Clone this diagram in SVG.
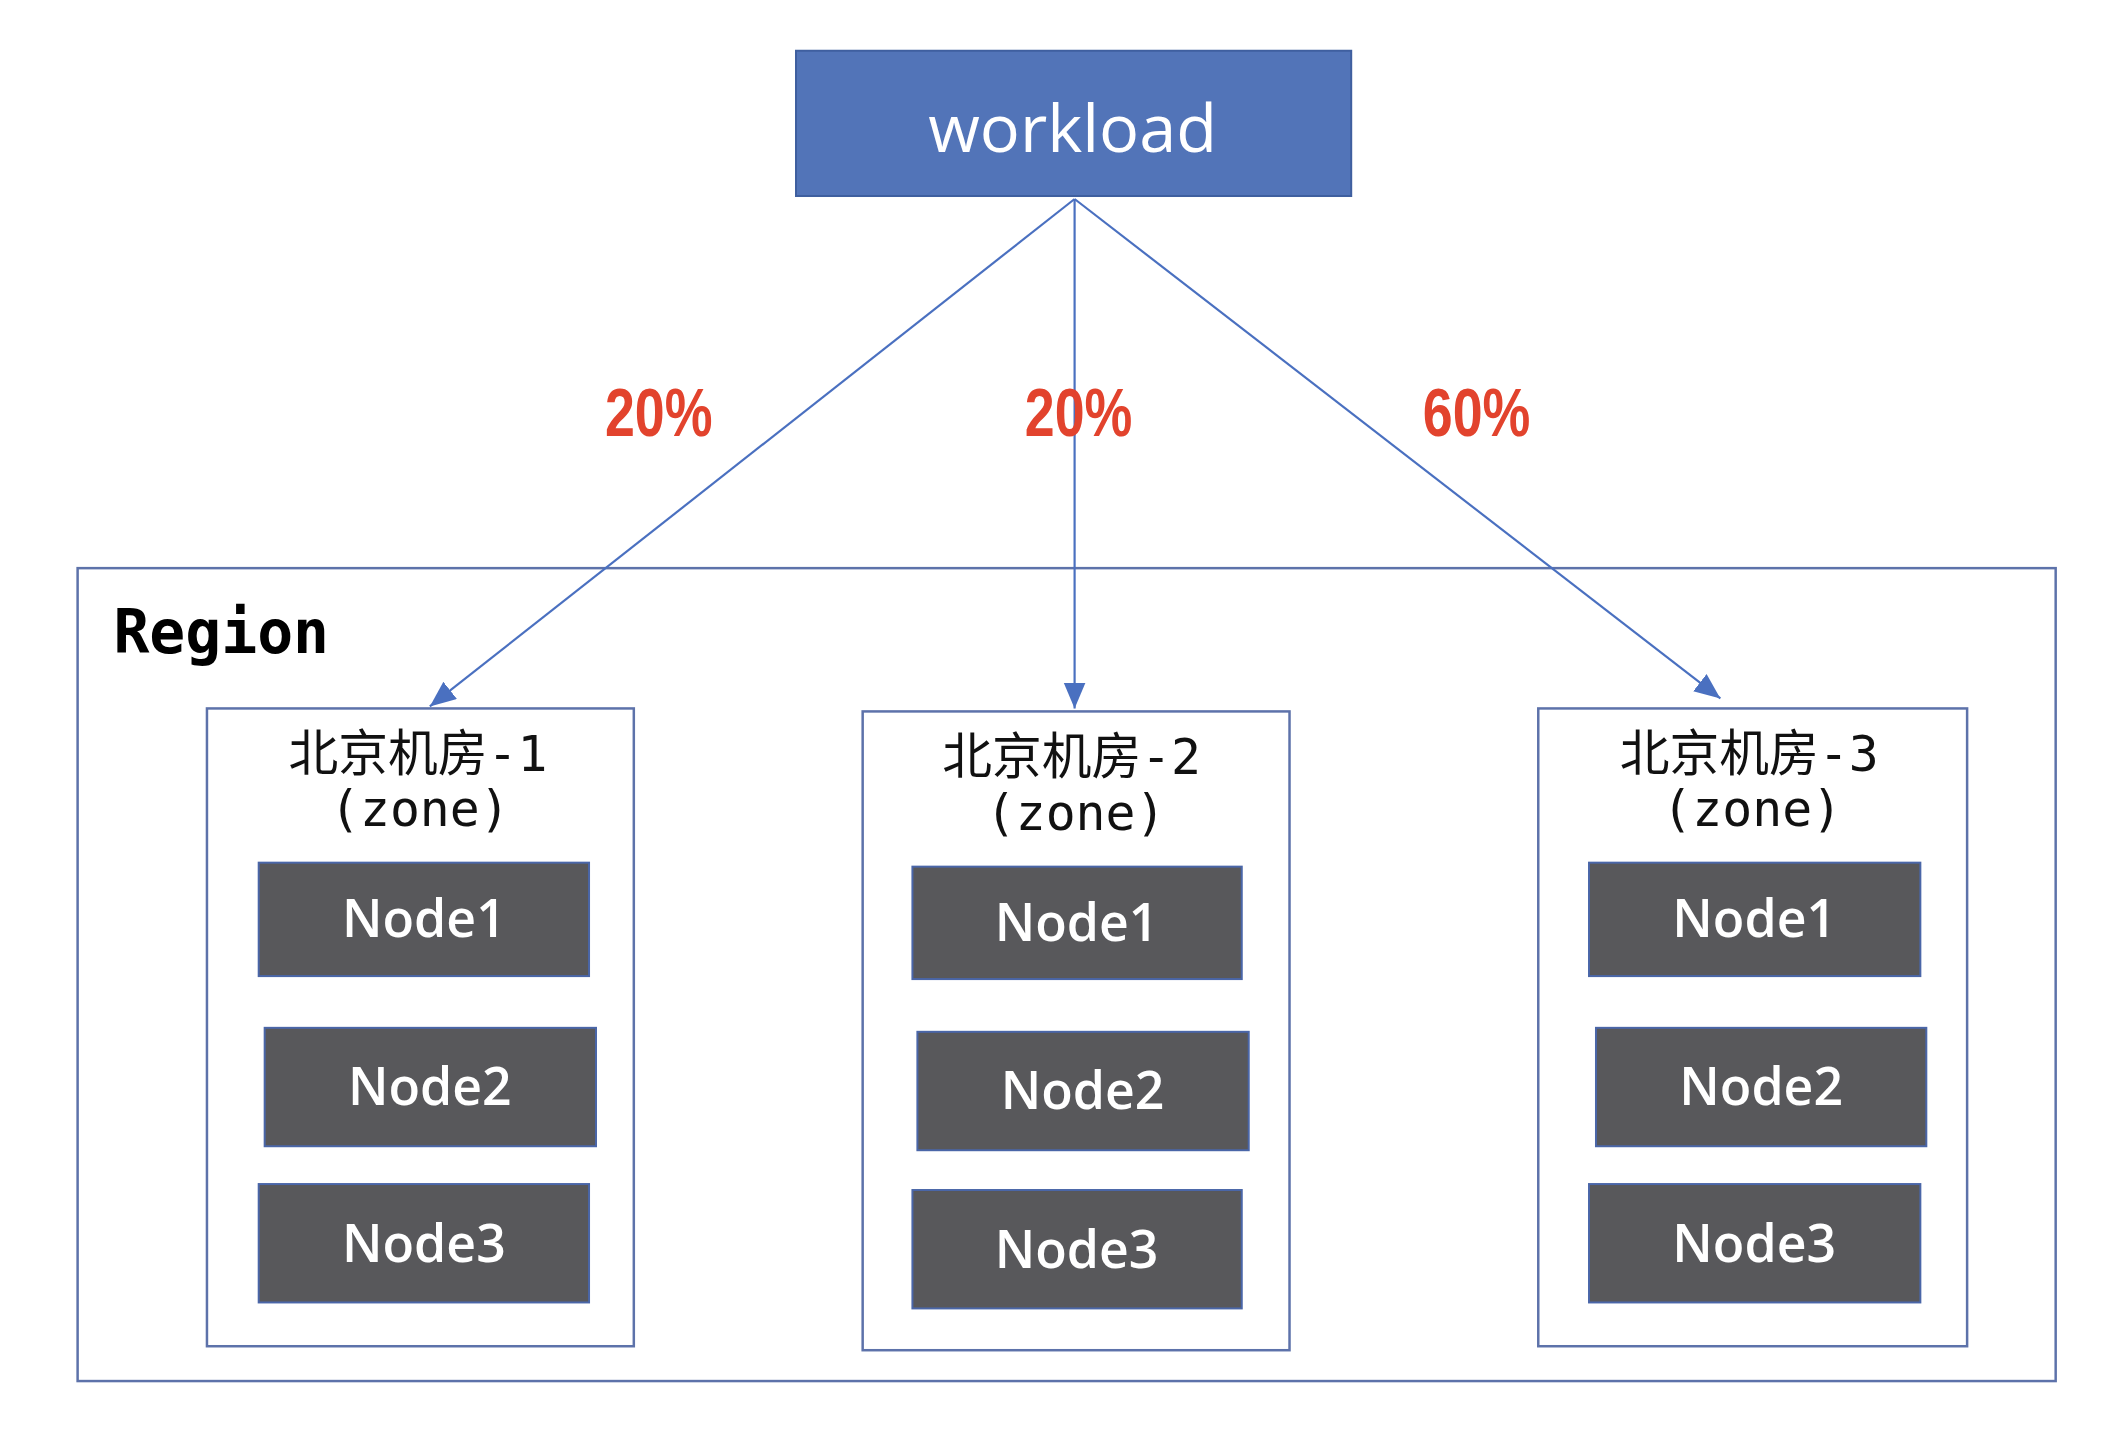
<svg xmlns="http://www.w3.org/2000/svg" width="2110" height="1430" viewBox="0 0 2110 1430">
<style>
.box{fill:#ffffff;stroke:#5d72aa;stroke-width:2.5}
.node rect{fill:#58585b;stroke:#4a66a8;stroke-width:2}
.node text{fill:#ffffff;font-family:"Open Sans","Liberation Sans",sans-serif;font-size:52px;font-weight:600;text-anchor:middle}
.ztitle{fill:#111111;font-family:"DejaVu Sans Mono","Noto Sans CJK SC",monospace;font-size:50px;text-anchor:middle}
.pct{fill:#e2432d;font-family:"Liberation Sans","Arial",sans-serif;font-size:68px;font-weight:bold;text-anchor:middle}
.conn{stroke:#4a70c0;stroke-width:2.2;fill:none}
</style>
<defs>
<marker id="arr" markerUnits="userSpaceOnUse" markerWidth="30" markerHeight="24" refX="26" refY="11" orient="auto">
<path d="M0,0 L26,11 L0,22 Z" fill="#4a70c0"/>
</marker>
</defs>
<rect width="2110" height="1430" fill="#ffffff"/>
<g transform="scale(0.995)">
<g id="region">
<rect class="box" x="78" y="571" width="1988" height="817"/>
<text x="114" y="656" font-family="DejaVu Sans Mono, monospace" font-size="60" font-weight="bold" fill="#000000">Region</text>
</g>

<g id="workload">
<rect x="800" y="51" width="558" height="146" fill="#5274b8" stroke="#3f5f9f" stroke-width="2"/>
<text x="1078" y="153" font-family="Open Sans, Liberation Sans, sans-serif" font-size="67" fill="#ffffff" text-anchor="middle">workload</text>
</g>

<g id="connectors">
<line class="conn" x1="1080" y1="200" x2="432" y2="710" marker-end="url(#arr)"/>
<line class="conn" x1="1080" y1="200" x2="1080" y2="712" marker-end="url(#arr)"/>
<line class="conn" x1="1080" y1="200" x2="1729" y2="702" marker-end="url(#arr)"/>
<text class="pct" x="662" y="438" textLength="108" lengthAdjust="spacingAndGlyphs">20%</text>
<text class="pct" x="1084" y="438" textLength="108" lengthAdjust="spacingAndGlyphs">20%</text>
<text class="pct" x="1484" y="438" textLength="108" lengthAdjust="spacingAndGlyphs">60%</text>
</g>

<g id="zone1">
<rect class="box" x="208" y="712" width="429" height="641"/>
<text class="ztitle" x="420" y="775">北京机房-1</text>
<text class="ztitle" x="422" y="830">(zone)</text>
</g>
<g id="zone1-node1" class="node"><rect x="260" y="867" width="332" height="114"/><text x="426" y="942">Node1</text></g>
<g id="zone1-node2" class="node"><rect x="266" y="1033" width="333" height="119"/><text x="432" y="1111">Node2</text></g>
<g id="zone1-node3" class="node"><rect x="260" y="1190" width="332" height="119"/><text x="426" y="1268">Node3</text></g>

<g id="zone2">
<rect class="box" x="867" y="715" width="429" height="642"/>
<text class="ztitle" x="1077" y="778">北京机房-2</text>
<text class="ztitle" x="1081" y="834">(zone)</text>
</g>
<g id="zone2-node1" class="node"><rect x="917" y="871" width="331" height="113"/><text x="1082" y="946">Node1</text></g>
<g id="zone2-node2" class="node"><rect x="922" y="1037" width="333" height="119"/><text x="1088" y="1115">Node2</text></g>
<g id="zone2-node3" class="node"><rect x="917" y="1196" width="331" height="119"/><text x="1082" y="1274">Node3</text></g>

<g id="zone3">
<rect class="box" x="1546" y="712" width="431" height="641"/>
<text class="ztitle" x="1758" y="775">北京机房-3</text>
<text class="ztitle" x="1761" y="830">(zone)</text>
</g>
<g id="zone3-node1" class="node"><rect x="1597" y="867" width="333" height="114"/><text x="1763" y="942">Node1</text></g>
<g id="zone3-node2" class="node"><rect x="1604" y="1033" width="332" height="119"/><text x="1770" y="1111">Node2</text></g>
<g id="zone3-node3" class="node"><rect x="1597" y="1190" width="333" height="119"/><text x="1763" y="1268">Node3</text></g>
</g>
</svg>
